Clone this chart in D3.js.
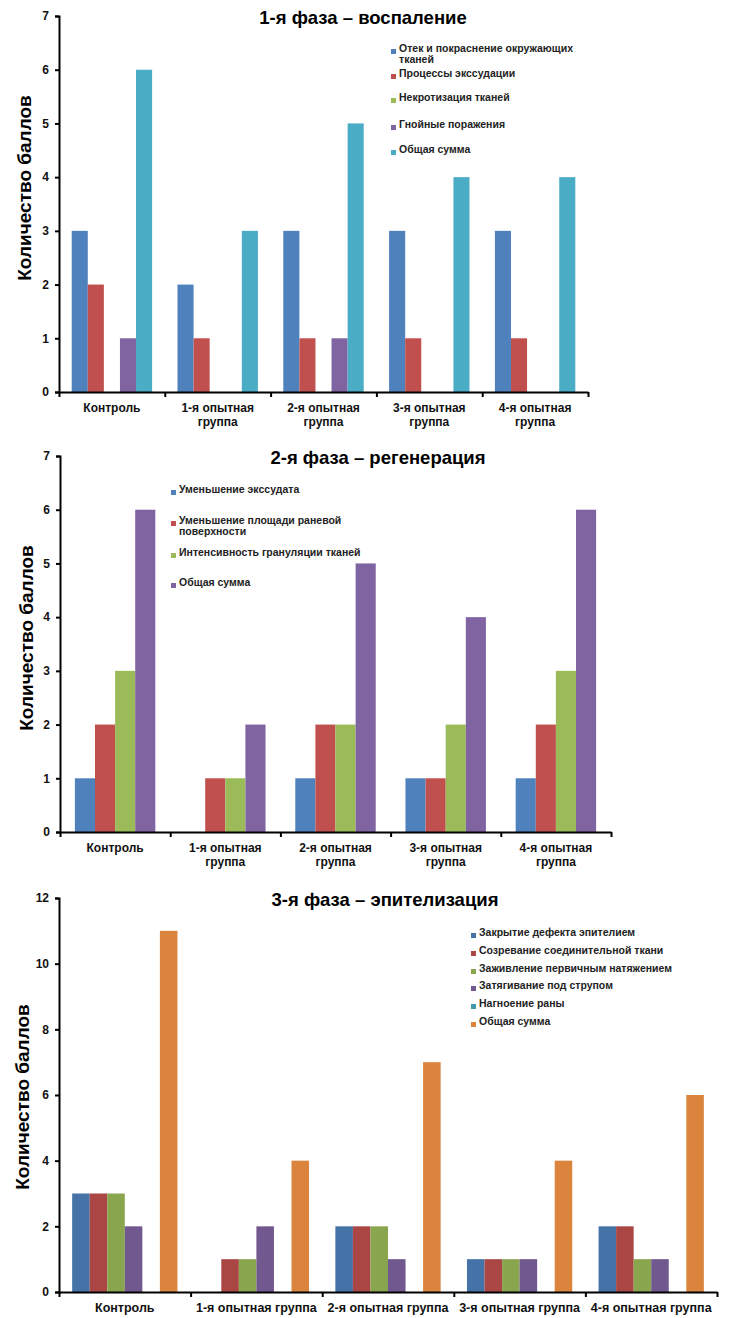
<!DOCTYPE html>
<html>
<head>
<meta charset="utf-8">
<script src="https://cdn.jsdelivr.net/npm/d3@7"></script>
<style>
  body { margin: 0; background: #fff; }
  svg { display: block; font-family: Arial, "Liberation Sans", sans-serif; }
  .tick text { font-weight: bold; font-size: 12px; fill: #111; }
</style>
</head>
<body>
<div id="chart"></div>
<script>
// groups shared by all three charts
var groups = ["Контроль", "1-я опытная группа", "2-я опытная группа", "3-я опытная группа", "4-я опытная группа"];

// phase 1 - inflammation
var p1Series = ["Отек и покраснение окружающих тканей", "Процессы экссудации", "Некротизация тканей", "Гнойные поражения", "Общая сумма"];
var p1Oedema = [3, 2, 3, 3, 3];
var p1Exudation = [2, 1, 1, 1, 1];
var p1Necrosis = [0, 0, 0, 0, 0];
var p1Purulent = [1, 0, 1, 0, 0];
var p1Total = [6, 3, 5, 4, 4];
var p1Ticks = [0, 1, 2, 3, 4, 5, 6, 7];

// phase 2 - regeneration
var p2Series = ["Уменьшение экссудата", "Уменьшение площади раневой поверхности", "Интенсивность грануляции тканей", "Общая сумма"];
var p2Exudate = [1, 0, 1, 1, 1];
var p2Area = [2, 1, 2, 1, 2];
var p2Granulation = [3, 1, 2, 2, 3];
var p2Total = [6, 2, 5, 4, 6];
var p2Ticks = [0, 1, 2, 3, 4, 5, 6, 7];

// phase 3 - epithelialization
var p3Series = ["Закрытие дефекта эпителием", "Созревание соединительной ткани", "Заживление первичным натяжением", "Затягивание под струпом", "Нагноение раны", "Общая сумма"];
var p3Closure = [3, 0, 2, 1, 2];
var p3Maturation = [3, 1, 2, 1, 2];
var p3Primary = [3, 1, 2, 1, 1];
var p3Scab = [2, 2, 1, 1, 1];
var p3Suppuration = [0, 0, 0, 0, 0];
var p3Total = [11, 4, 7, 4, 6];
var p3Ticks = [0, 2, 4, 6, 8, 10, 12];

var W = 733, H = 1318;
var svg = d3.select('#chart').append('svg')
    .attr('width', W)
    .attr('height', H);

var charts = [
  {
    title: "1-я фаза – воспаление", titleX: 363, titleY: 24,
    left: 59, right: 588, top: 16, bottom: 392, max: 7, ticks: p1Ticks,
    fill: 0.76, wrap: true, yTitleX: 31, yTitleY: 188,
    series: p1Series, values: [p1Oedema, p1Exudation, p1Necrosis, p1Purulent, p1Total],
    colors: ["#4F81BD", "#C0504D", "#9BBB59", "#8064A2", "#4BACC6"],
    legendX: 391, legendRows: [52, 77, 101, 128, 153], legendWrap: {0: ["Отек и покраснение окружающих", "тканей"]}
  },
  {
    title: "2-я фаза – регенерация", titleX: 378, titleY: 464,
    left: 60, right: 611, top: 456, bottom: 832, max: 7, ticks: p2Ticks,
    fill: 0.73, wrap: true, yTitleX: 33, yTitleY: 638,
    series: p2Series, values: [p2Exudate, p2Area, p2Granulation, p2Total],
    colors: ["#4F81BD", "#C0504D", "#9BBB59", "#8064A2"],
    legendX: 171, legendRows: [493, 524, 556, 586], legendWrap: {1: ["Уменьшение площади раневой", "поверхности"]}
  },
  {
    title: "3-я фаза – эпителизация", titleX: 385, titleY: 906,
    left: 59, right: 717, top: 898, bottom: 1292, max: 12, ticks: p3Ticks,
    fill: 0.8, wrap: false, yTitleX: 29, yTitleY: 1097,
    series: p3Series, values: [p3Closure, p3Maturation, p3Primary, p3Scab, p3Suppuration, p3Total],
    colors: ["#4572A7", "#AA4643", "#89A54E", "#71588F", "#4198AF", "#DB843D"],
    legendX: 471, legendRows: [936, 954, 972, 989, 1007, 1025], legendWrap: {}
  }
];

charts.forEach(function(c) {
  var g = svg.append('g');

  var x = d3.scaleBand().domain(groups).range([c.left, c.right]);
  var pad = x.bandwidth() * (1 - c.fill) / 2;
  var x1 = d3.scaleBand().domain(c.series).range([pad, x.bandwidth() - pad]);
  var y = d3.scaleLinear().domain([0, c.max]).range([c.bottom, c.top]);

  // bars
  c.series.forEach(function(s, si) {
    g.append('g').selectAll('rect')
      .data(c.values[si])
      .enter().append('rect')
      .attr('x', function(d, i) { return x(groups[i]) + x1(s); })
      .attr('y', function(d) { return y(d); })
      .attr('width', x1.bandwidth())
      .attr('height', function(d) { return y(0) - y(d); })
      .attr('fill', c.colors[si]);
  });

  // y axis
  var yAxis = g.append('g')
    .attr('transform', 'translate(' + c.left + ',0)')
    .call(d3.axisLeft(y).tickValues(c.ticks).tickFormat(d3.format('d')).tickSize(4).tickPadding(6));
  yAxis.selectAll('path, line').attr('stroke', '#000').attr('stroke-width', 2);

  // x axis: ticks at group boundaries
  var xb = d3.scaleLinear().domain([0, groups.length]).range([c.left, c.right]);
  var xAxis = g.append('g')
    .attr('transform', 'translate(0,' + c.bottom + ')')
    .call(d3.axisBottom(xb).tickValues(d3.range(groups.length + 1)).tickSize(5).tickSizeOuter(0).tickFormat(''));
  xAxis.selectAll('path, line').attr('stroke', '#000').attr('stroke-width', 2);

  // category labels
  var lab = g.append('g').selectAll('text')
    .data(groups)
    .enter().append('text')
    .attr('text-anchor', 'middle')
    .attr('font-size', c.wrap ? 12 : 12.5)
    .attr('font-weight', 'bold')
    .attr('fill', '#111')
    .attr('y', c.bottom + 20);
  lab.each(function(d) {
    var t = d3.select(this);
    var cx = x(d) + x.bandwidth() / 2;
    if (c.wrap && d.indexOf('опытная') > 0) {
      var k = d.lastIndexOf(' ');
      t.append('tspan').attr('x', cx).text(d.slice(0, k));
      t.append('tspan').attr('x', cx).attr('dy', 14).text(d.slice(k + 1));
    } else {
      t.attr('x', cx).text(d);
    }
  });

  // titles
  g.append('text')
    .attr('x', c.titleX)
    .attr('y', c.titleY)
    .attr('text-anchor', 'middle')
    .attr('font-size', 18.5)
    .attr('font-weight', 'bold')
    .attr('fill', '#000')
    .text(c.title);

  g.append('text')
    .attr('transform', 'translate(' + c.yTitleX + ',' + c.yTitleY + ') rotate(-90)')
    .attr('text-anchor', 'middle')
    .attr('font-size', 19)
    .attr('font-weight', 'bold')
    .attr('fill', '#000')
    .text('Количество баллов');

  // legend
  var leg = g.append('g').selectAll('g')
    .data(c.series)
    .enter().append('g')
    .attr('transform', function(d, i) { return 'translate(' + c.legendX + ',' + c.legendRows[i] + ')'; });
  leg.append('rect')
    .attr('x', 0).attr('y', -3)
    .attr('width', 5).attr('height', 5)
    .attr('fill', function(d, i) { return c.colors[i]; });
  leg.append('text')
    .attr('x', 8).attr('y', 0)
    .attr('dy', '0.35em')
    .attr('font-size', 10.5)
    .attr('font-weight', 'bold')
    .attr('fill', '#222')
    .each(function(d, i) {
      var lines = c.legendWrap[i] || [d];
      var t = d3.select(this);
      lines.forEach(function(l, li) {
        t.append('tspan').attr('x', 8).attr('dy', li ? 11 : 0).text(l);
      });
    });
});
</script>
</body>
</html>
